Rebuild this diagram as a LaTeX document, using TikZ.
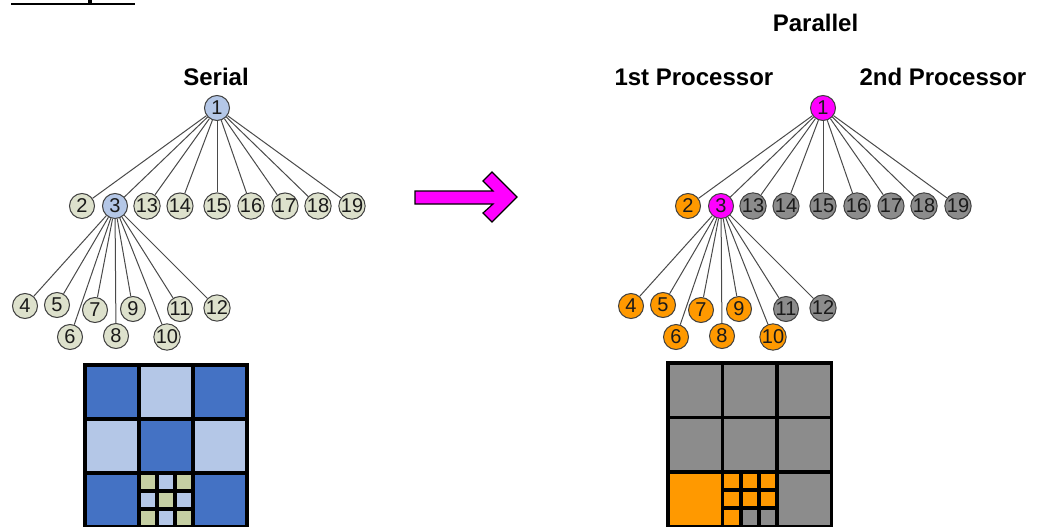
\documentclass[tikz,border=0pt]{standalone}
\usepackage{fontspec}
\setmainfont{Liberation Sans}
\definecolor{nodeline}{HTML}{404040}
\definecolor{nodetext}{HTML}{1A1A1A}
\definecolor{linkgray}{HTML}{4A4A4A}
\definecolor{khaki}{HTML}{DDE1CC}
\definecolor{paleblue}{HTML}{B4C7E7}
\definecolor{deepblue}{HTML}{4472C4}
\definecolor{subkhaki}{HTML}{C5CFA3}
\definecolor{hotpink}{HTML}{FF00FF}
\definecolor{amber}{HTML}{FF9900}
\definecolor{midgray}{HTML}{8C8C8C}

% one fan-out tree: root n1 with nine children, child n3 with nine children
\newcommand\fanouttree{%
  \node[tnode,hub]   (n1)  at (217,108) {1};
  \node[tnode,leafA] (n2)  at (82,206)  {2};
  \node[tnode,hub]   (n3)  at (115,206) {3};
  \node[tnode,leafB] (n13) at (147,206) {13};
  \node[tnode,leafB] (n14) at (180,206) {14};
  \node[tnode,leafB] (n15) at (217,206) {15};
  \node[tnode,leafB] (n16) at (251,206) {16};
  \node[tnode,leafB] (n17) at (285,206) {17};
  \node[tnode,leafB] (n18) at (318,206) {18};
  \node[tnode,leafB] (n19) at (352,206) {19};
  \node[tnode,leafA] (n4)  at (25,306)  {4};
  \node[tnode,leafA] (n5)  at (57,305)  {5};
  \node[tnode,leafA] (n7)  at (95,310)  {7};
  \node[tnode,leafA] (n9)  at (133,309) {9};
  \node[tnode,leafB] (n11) at (180,309) {11};
  \node[tnode,leafB] (n12) at (217,308) {12};
  \node[tnode,leafA] (n6)  at (70,337)  {6};
  \node[tnode,leafA] (n8)  at (116,336) {8};
  \node[tnode,leafA] (n10) at (167,337) {10};
  \foreach \c in {2,3,13,14,15,16,17,18,19} \draw[link] (n1) -- (n\c);
  \foreach \c in {4,5,6,7,8,9,10,11,12} \draw[link] (n3) -- (n\c);
}

\begin{document}
\begin{tikzpicture}[x=1pt,y=-1pt,
  tnode/.style={circle, draw=nodeline, line width=1pt, minimum size=25pt,
    inner sep=0pt, font=\fontsize{20}{20}\selectfont, text=nodetext},
  link/.style={draw=linkgray, line width=1pt},
  title/.style={font=\fontsize{24}{24}\selectfont\bfseries, anchor=base},
  cell/.style={draw=black, line width=3.8pt},
  bigarrow/.style={fill=hotpink, draw=black, line width=1.2pt, line join=miter},
]
\useasboundingbox (0,0) rectangle (1038,527);
\clip (0,0) rectangle (1038,527);
\fill[white] (0,0) rectangle (1038,527);

% heading rule at the top edge
\draw[line width=2pt] (11,4.5) -- (135,4.5);
\fill (88,0) rectangle (91.5,4);

% titles
\node[title] (serial)   at (216,85)   {Serial};
\node[title] (parallel) at (815.5,32) {Parallel};
\node[title, anchor=base west] (proc1) at (611,85) {1st Processor};
\node[title, anchor=base west] (proc2) at (856,85) {2nd Processor};

% serial tree
\begin{scope}[name prefix=s-,
    hub/.style={fill=paleblue}, leafA/.style={fill=khaki}, leafB/.style={fill=khaki}]
  \fanouttree
\end{scope}

% parallel tree, split over two processors
\begin{scope}[shift={(606,0)}, name prefix=p-,
    hub/.style={fill=hotpink}, leafA/.style={fill=amber}, leafB/.style={fill=midgray}]
  \fanouttree
\end{scope}

% arrow between the two halves
\draw[bigarrow] (415,191) -- (493,191) -- (483,181) -- (492,172) -- (517,197)
  -- (492,222) -- (483,213) -- (493,204) -- (415,204) -- cycle;

% serial domain grid
\begin{scope}[shift={(85,365)}]
  \def\s{54}
  \foreach \i/\j/\col in {0/0/deepblue,1/0/paleblue,2/0/deepblue,
                          0/1/paleblue,1/1/deepblue,2/1/paleblue,
                          0/2/deepblue,2/2/deepblue}
    \draw[cell, fill=\col] (\i*\s,\j*\s) rectangle ++(\s,\s);
  \foreach \i/\j/\col in {0/0/subkhaki,1/0/paleblue,2/0/subkhaki,
                          0/1/paleblue,1/1/subkhaki,2/1/paleblue,
                          0/2/subkhaki,1/2/paleblue,2/2/subkhaki}
    \draw[cell, fill=\col] (\s+\i*\s/3,2*\s+\j*\s/3) rectangle ++(\s/3,\s/3);
\end{scope}

% parallel domain grid
\begin{scope}[shift={(668,363)}]
  \def\s{54.5}
  \foreach \i/\j/\col in {0/0/midgray,1/0/midgray,2/0/midgray,
                          0/1/midgray,1/1/midgray,2/1/midgray,
                          0/2/amber,2/2/midgray}
    \draw[cell, fill=\col] (\i*\s,\j*\s) rectangle ++(\s,\s);
  \foreach \i/\j/\col in {0/0/amber,1/0/amber,2/0/amber,
                          0/1/amber,1/1/amber,2/1/amber,
                          0/2/amber,1/2/midgray,2/2/midgray}
    \draw[cell, fill=\col] (\s+\i*\s/3,2*\s+\j*\s/3) rectangle ++(\s/3,\s/3);
\end{scope}
\end{tikzpicture}
\end{document}
